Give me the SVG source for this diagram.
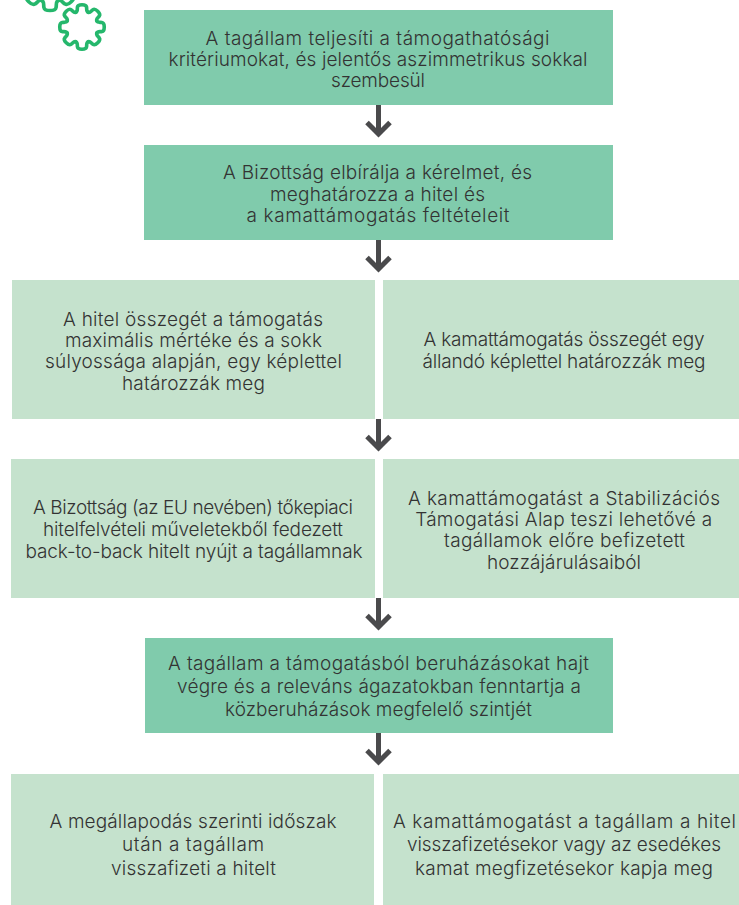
<svg xmlns="http://www.w3.org/2000/svg" width="739" height="905" viewBox="0 0 739 905">
<style>
text{font-family:Inter,"Liberation Sans",sans-serif;font-weight:300;font-size:19px;fill:#333;text-anchor:middle}
.d{fill:#80cbac}.l{fill:#c5e2cd}
.a{fill:none;stroke:#4a4a4c;stroke-width:5}
.g{fill:none;stroke:#25b76c;stroke-linejoin:round;stroke-linecap:round}
</style>
<defs>
<path id="t" d="M-6.100 -14.800C-4 -15.700 -5 -18 -4.500 -20C-4 -23 4 -23 4.500 -20C5 -18 4 -15.700 6.100 -14.800"/>
<g id="gear"><use href="#t"/><use href="#t" transform="rotate(45)"/><use href="#t" transform="rotate(90)"/><use href="#t" transform="rotate(135)"/><use href="#t" transform="rotate(180)"/><use href="#t" transform="rotate(225)"/><use href="#t" transform="rotate(270)"/><use href="#t" transform="rotate(315)"/></g>
</defs>
<rect width="739" height="905" fill="#fff"/>
<g id="gears">
<use href="#gear" class="g" transform="translate(50 -19.500) scale(1.35)" stroke-width="2.700"/>
<use href="#gear" class="g" transform="translate(82 27)" stroke-width="3.600"/>
</g>
<g id="connectors">
<path class="a" d="M378.500 105V134M367 122.500L378.500 134L390 122.500"/>
<path class="a" d="M378.500 240V269M367 257.500L378.500 269L390 257.500"/>
<path class="a" d="M378.500 419V448M367 436.500L378.500 448L390 436.500"/>
<path class="a" d="M378.500 598V627M367 615.500L378.500 627L390 615.500"/>
<path class="a" d="M378.500 733V762M367 750.500L378.500 762L390 750.500"/>
</g>
<g id="n1"><rect class="d" x="144" y="10" width="469" height="95"/><text x="377.500" y="44.500" textLength="344">A tagállam teljesíti a támogathatósági</text><text x="378" y="66" textLength="419">kritériumokat, és jelentős aszimmetrikus sokkal</text><text x="378" y="87" textLength="94">szembesül</text></g>
<g id="n2"><rect class="d" x="144" y="145" width="469" height="95"/><text x="377.500" y="179" textLength="309">A Bizottság elbírálja a kérelmet, és</text><text x="377.500" y="201" textLength="215">meghatározza a hitel és</text><text x="378" y="222" textLength="263">a kamattámogatás feltételeit</text></g>
<g id="n3"><rect class="l" x="12" y="280" width="363" height="139"/><text x="193" y="325.500" textLength="260">A hitel összegét a támogatás</text><text x="193.500" y="347" textLength="257">maximális mértéke és a sokk</text><text x="193.500" y="368" textLength="297">súlyossága alapján, egy képlettel</text><text x="193.500" y="390" textLength="143">határozzák meg</text></g>
<g id="n4"><rect class="l" x="383" y="280" width="356" height="139"/><text x="564" y="346" textLength="281">A kamattámogatás összegét egy</text><text x="564" y="368" textLength="283">állandó képlettel határozzák meg</text></g>
<g id="n5"><rect class="l" x="11" y="459" width="364" height="139"/><text x="193" y="514" textLength="320">A Bizottság (az EU nevében) tőkepiaci</text><text x="193" y="536" textLength="300">hitelfelvételi műveletekből fedezett</text><text x="194" y="558" textLength="337">back-to-back hitelt nyújt a tagállamnak</text></g>
<g id="n6"><rect class="l" x="383" y="459" width="356" height="139"/><text x="564" y="505" textLength="312">A kamattámogatást a Stabilizációs</text><text x="563.700" y="526" textLength="297">Támogatási Alap teszi lehetővé a</text><text x="564.500" y="547" textLength="241">tagállamok előre befizetett</text><text x="564" y="569" textLength="154">hozzájárulásaiból</text></g>
<g id="n7"><rect class="d" x="145" y="638" width="468" height="95"/><text x="378.500" y="670" textLength="421">A tagállam a támogatásból beruházásokat hajt</text><text x="379" y="693" textLength="404">végre és a releváns ágazatokban fenntartja a</text><text x="378.500" y="716" textLength="307">közberuházások megfelelő szintjét</text></g>
<g id="n8"><rect class="l" x="11" y="774" width="363" height="131"/><text x="193" y="828" textLength="287">A megállapodás szerinti időszak</text><text x="193" y="851" textLength="142">után a tagállam</text><text x="193.500" y="875" textLength="165">visszafizeti a hitelt</text></g>
<g id="n9"><rect class="l" x="383" y="774" width="356" height="131"/><text x="564.500" y="828" textLength="343">A kamattámogatást a tagállam a hitel</text><text x="564" y="851" textLength="314">visszafizetésekor vagy az esedékes</text><text x="564" y="875" textLength="298">kamat megfizetésekor kapja meg</text></g>
</svg>
